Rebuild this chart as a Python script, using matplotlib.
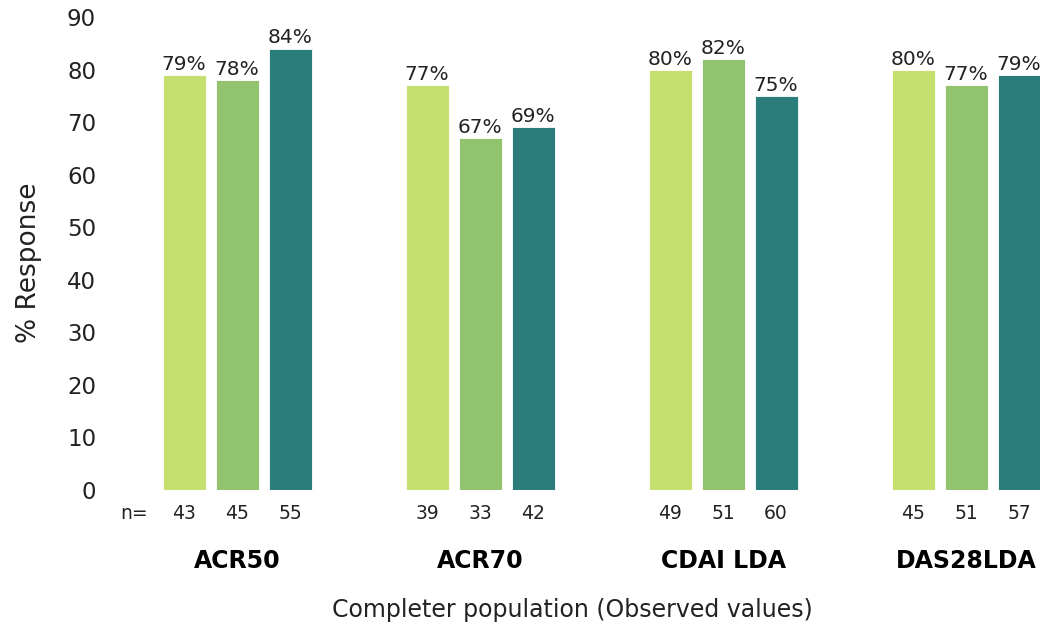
import numpy as np
from matplotlib import pyplot as plt

groups = ['ACR50', 'ACR70', 'CDAI LDA', 'DAS28LDA']
pct_a = [79, 77, 80, 80]
pct_b = [78, 67, 82, 77]
pct_c = [84, 69, 75, 79]
n_a = [43, 39, 49, 45]
n_b = [45, 33, 51, 51]
n_c = [55, 42, 60, 57]
colors = ['#c6e06f', '#92c46f', '#2a7d7b']

fig = plt.figure(figsize=(10.48, 6.29), dpi=100)
ax = fig.add_axes([110 / 1048, 1 - 490 / 629, 930 / 1048, 473 / 629])

x = np.arange(len(groups))
step = 0.218
width = 0.177
series = [(pct_a, n_a), (pct_b, n_b), (pct_c, n_c)]

for j, (vals, ns) in enumerate(series):
    pos = x + (j - 1) * step
    bars = ax.bar(pos, vals, width=width, color=colors[j], edgecolor='white', linewidth=0.6)
    for b, v in zip(bars, vals):
        ax.text(b.get_x() + b.get_width() / 2, v + 0.2, f'{v}%', ha='center', va='bottom',
                fontsize=14.5, color='#222222')
    # sample sizes under each bar
    for p, n in zip(pos, ns):
        ax.text(p, -4.5, str(n), ha='center', va='center', fontsize=13.5, color='#222222')

ax.text(x[0] - step - 0.264, -4.5, 'n=', ha='left', va='center', fontsize=13.5, color='#222222')

for xi, g in zip(x, groups):
    ax.text(xi, -13.5, g, ha='center', va='center', fontsize=17, fontweight='bold', color='black')

ax.text(1.378, -22.8, 'Completer population (Observed values)', ha='center', va='center',
        fontsize=17, color='#222222')

ax.set_xlim(-0.523, 3.304)
ax.set_ylim(0, 90)
ax.set_yticks(range(0, 91, 10))
ax.tick_params(axis='y', length=0, labelsize=16.5, labelcolor='#222222', pad=10)
ax.set_xticks([])
ax.set_ylabel('% Response', fontsize=19, color='#222222')
ax.yaxis.set_label_coords(-0.073, 0.481)
for s in ax.spines.values():
    s.set_visible(False)

fig.savefig('out.png', dpi=100)
